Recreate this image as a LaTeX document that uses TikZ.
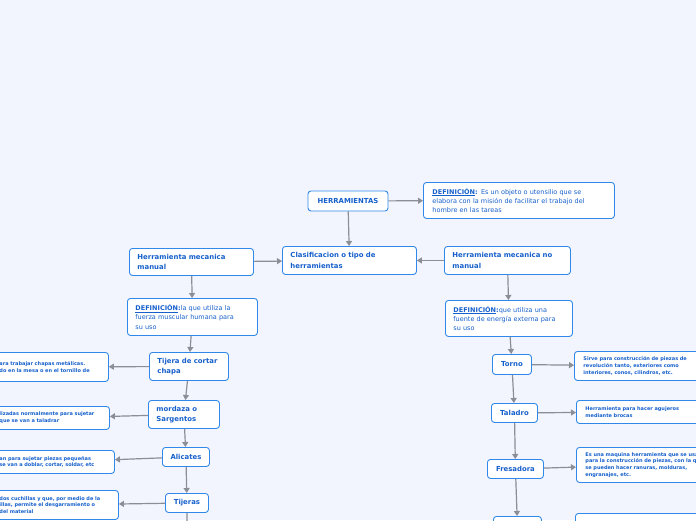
\documentclass[tikz,border=0pt]{standalone}
\usepackage{fontspec}
\setmainfont{DejaVu Sans}
\usetikzlibrary{shapes,arrows.meta,positioning,calc}
\definecolor{mapbg}{RGB}{242,245,254}
\definecolor{mapline}{RGB}{48,136,232}
\definecolor{mapink}{RGB}{22,96,204}
\definecolor{mapgray}{RGB}{140,142,150}
\newcommand{\defword}{\underline{\textbf{DEFINICIÓN}}\textbf{:}}

\begin{document}
\begin{tikzpicture}[x=1pt, y=-1pt,
    mainbox/.style={draw=mapline, fill=white, rounded corners=3pt, line width=0.9pt,
                    text=mapink, align=left, inner xsep=8pt, inner ysep=0pt,
                    font=\bfseries\fontsize{6.9}{10.5}\selectfont},
    smallbox/.style={mainbox, align=center, inner xsep=4pt},
    defbox/.style={mainbox, inner xsep=8pt, font=\fontsize{6.5}{9.4}\selectfont},
    leafbox/.style={mainbox, inner xsep=5pt, font=\bfseries\fontsize{5}{6.7}\selectfont},
    link/.style={draw=mapgray, line width=1.2pt, -{Triangle[length=5pt,width=6pt]}}
]
\useasboundingbox (0,0) rectangle (696,520);
\clip (0,0) rectangle (696,520);
\fill[mapbg] (0,0) rectangle (696,520);

\node[smallbox, text width=72pt, minimum height=20pt] (herr) at (348,201) {HERRAMIENTAS};
\node[defbox, anchor=north west, text width=173pt, inner xsep=9pt, minimum height=36pt] (def0) at (423,182)
    {\defword{} Es un objeto o utensilio que se\\elabora con la misión de facilitar el trabajo del\\hombre en las tareas};

\node[mainbox, anchor=north west, text width=118pt, minimum height=28pt] (clasif) at (282,246) {Clasificacion o tipo de\\herramientas};
\node[mainbox, anchor=north west, text width=108pt, minimum height=27pt] (manual) at (129,248) {Herramienta mecanica\\manual};
\node[mainbox, anchor=north west, text width=110pt, minimum height=28pt] (nomanual) at (444,246) {Herramienta mecanica no\\manual};

\node[defbox, anchor=north west, text width=114pt, minimum height=37pt] (defman) at (127,298)
    {\defword la que utiliza la\\fuerza muscular humana para\\su uso};
\node[defbox, anchor=north west, text width=111pt, minimum height=36pt] (defnom) at (445,300)
    {\defword que utiliza una\\fuente de energía externa para\\su uso};

% manual
\node[mainbox, anchor=north west, text width=63pt, minimum height=28pt] (tijera) at (149,352) {Tijera de cortar\\chapa};
\node[mainbox, anchor=north west, text width=55pt, minimum height=28pt] (mordaza) at (148,400) {mordaza o\\Sargentos};
\node[smallbox, anchor=north west, text width=39pt, minimum height=19pt] (alicates) at (162,447) {Alicates};
\node[smallbox, anchor=north west, text width=35pt, minimum height=19pt] (tijeras) at (165,493) {Tijeras};
\coordinate (tijerasend) at (187,535);

\node[leafbox, anchor=north west, text width=104pt, minimum height=29pt] (leafA) at (-6,352)
    {ara trabajar chapas metálicas.\\do en la mesa o en el tornillo de};
\node[leafbox, anchor=north west, text width=105pt, minimum height=23pt] (leafB) at (-6,406)
    {lizadas normalmente para sujetar\\que se van a taladrar};
\node[leafbox, anchor=north west, text width=110pt, minimum height=23pt] (leafC) at (-6,450)
    {an para sujetar piezas pequeñas\\se van a doblar, cortar, soldar, etc};
\node[leafbox, anchor=north west, text width=114pt, minimum height=29pt] (leafD) at (-6,490)
    {dos cuchillas y que, por medio de la\\illas, permite el desgarramiento o\\del material};

% no manual
\node[smallbox, anchor=north west, text width=31pt, minimum height=20pt] (torno) at (492,354) {Torno};
\node[smallbox, anchor=north west, text width=38pt, minimum height=19pt] (taladro) at (491,403) {Taladro};
\node[smallbox, anchor=north west, text width=48pt, minimum height=19pt] (fresadora) at (487,459) {Fresadora};
\node[smallbox, anchor=north west, text width=40pt, minimum height=20pt] (sig) at (493,516) {};

\node[leafbox, anchor=north west, text width=122pt, inner xsep=9pt, minimum height=29pt] (leafE) at (574,351)
    {Sirve para construcción de piezas de\\revolución tanto, exteriores como\\interiores, conos, cilindros, etc.};
\node[leafbox, anchor=north west, text width=122pt, inner xsep=9pt, minimum height=23pt] (leafF) at (576,400)
    {Herramienta para hacer agujeros\\mediante brocas};
\node[leafbox, anchor=north west, text width=122pt, inner xsep=9pt, minimum height=35pt] (leafG) at (576,447)
    {Es una maquina herramienta que se usa\\para la construcción de piezas, con la que\\se pueden hacer ranuras, molduras,\\engranajes, etc.};
\node[leafbox, anchor=north west, text width=122pt, inner xsep=9pt, minimum height=25pt] (leafH) at (575,513) {};

\draw[link] (herr) -- (def0);
\draw[link] (herr) -- (clasif);
\draw[link] (manual) -- (clasif);
\draw[link] (nomanual) -- (clasif);
\draw[link] (manual) -- (defman);
\draw[link] (nomanual) -- (defnom);

\draw[link] (defman) -- (tijera);
\draw[link] (tijera) -- (leafA);
\draw[link] (tijera) -- (mordaza);
\draw[link] (mordaza) -- (leafB);
\draw[link] (mordaza) -- (alicates);
\draw[link] (alicates) -- (leafC);
\draw[link] (alicates) -- (tijeras);
\draw[link] (tijeras) -- (leafD);
\draw[link] (tijeras) -- (tijerasend);

\draw[link] (defnom) -- (torno);
\draw[link] (torno) -- (leafE);
\draw[link] (torno) -- (taladro);
\draw[link] (taladro) -- (leafF);
\draw[link] (taladro) -- (fresadora);
\draw[link] (fresadora) -- (leafG);
\draw[link] (fresadora) -- (sig);
\end{tikzpicture}
\end{document}
